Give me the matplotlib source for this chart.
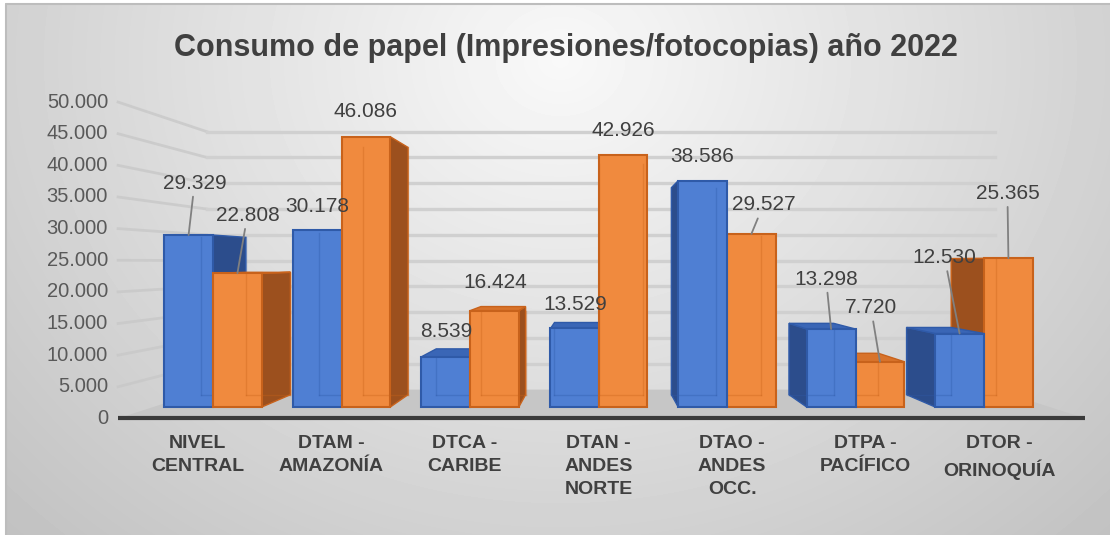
# Consumo de papel 2022 - barras con efecto 3D (estilo Excel)

import numpy as np
import matplotlib.pyplot as plt
from matplotlib.patches import Polygon, Rectangle

plt.rcParams['font.family'] = ['Liberation Sans', 'DejaVu Sans']

# Datos
categorias = ['NIVEL\nCENTRAL', 'DTAM -\nAMAZONÍA', 'DTCA -\nCARIBE', 'DTAN -\nANDES\nNORTE',
              'DTAO -\nANDES\nOCC.', 'DTPA -\nPACÍFICO', 'DTOR -\nORINOQUÍA']
serie_azul = [29329, 30178, 8539, 13529, 38586, 13298, 12530]
serie_naranja = [22808, 46086, 16424, 42926, 29527, 7720, 25365]
ticks_y = [0, 5000, 10000, 15000, 20000, 25000, 30000, 35000, 40000, 45000, 50000]
titulo = 'Consumo de papel (Impresiones/fotocopias) año 2022'

# posicion de las etiquetas de datos (dx, dy en pixeles, linea guia)
etq_azul = [(6, 52, True), (0, 24, False), (1, 25, False), (1, 23, False),
            (0, 24, False), (-5, 50, True), (-15, 76, True)]
etq_naranja = [(10, 58, True), (0, 25, False), (1, 28, False), (0, 25, False),
               (12, 29, True), (-9, 54, True), (-1, 65, True)]

# perspectiva (punto de fuga en coordenadas de datos)
XV, YV = 3.0, 24700
K_BAR = 0.915    # fondo de las barras
K_WALL = 0.88    # pared del fondo
K_FRONT = 1.079  # borde frontal del piso
WX0, WX1 = -0.465, 6.51
W = 0.38

AZUL = dict(face='#4f7fd3', edge='#2f5aa8', side='#2c4d8c', top='#3a66b6')
NARANJA = dict(face='#f08a3e', edge='#c8621b', side='#9c501e', top='#d8732b')


def proj(x, y, k):
    return XV + (np.asarray(x, float) - XV) * k, YV + (np.asarray(y, float) - YV) * k


def fmt(v):
    return f'{v:,}'.replace(',', '.')


def barra(ax, x0, x1, v, c, z):
    bx0, bv = proj(x0, v, K_BAR)
    bx1, b0 = proj(x1, 0, K_BAR)
    if x1 < XV - 1e-6:
        ax.add_patch(Polygon([(x1, 0), (x1, v), (bx1, bv), (bx1, b0)], closed=True,
                             fc=c['side'], ec=c['edge'], lw=1, zorder=z))
    if x0 > XV + 1e-6:
        ax.add_patch(Polygon([(x0, 0), (x0, v), (bx0, bv), (bx0, b0)], closed=True,
                             fc=c['side'], ec=c['edge'], lw=1, zorder=z))
    if v < YV:
        ax.add_patch(Polygon([(x0, v), (x1, v), (bx1, bv), (bx0, bv)], closed=True,
                             fc=c['top'], ec=c['edge'], lw=1, zorder=z))
    ax.bar(x0, v, width=x1 - x0, align='edge', color=c['face'], edgecolor=c['edge'],
           linewidth=1.5, zorder=z + 0.5)
    # aristas traseras vistas a traves de la cara frontal
    top = min(v, bv)
    ax.plot([bx0, bx0], [b0, top], color=c['edge'], lw=1, alpha=0.35, zorder=z + 0.6)
    ax.plot([bx1, bx1], [b0, top], color=c['edge'], lw=1, alpha=0.35, zorder=z + 0.6)
    ax.plot([bx0, bx1], [b0, b0], color=c['edge'], lw=1, alpha=0.35, zorder=z + 0.6)


fig = plt.figure(figsize=(11.1, 5.35), dpi=100)

# fondo con degradado gris
bg = fig.add_axes([0, 0, 1, 1])
bg.set_zorder(0)
yy, xx = np.mgrid[0:535, 0:1110]
d = np.sqrt(((xx - 560) / 560.0) ** 2 + ((yy - 60) / 480.0) ** 2)
val = np.clip(0.975 - 0.155 * d, 0.76, 1.0)
bg.imshow(val, cmap='gray', vmin=0, vmax=1, extent=(0, 1110, 535, 0), aspect='auto',
          interpolation='bilinear')
bg.add_patch(Rectangle((0, 0), 5, 535, fc='white', ec='none'))
bg.add_patch(Rectangle((0, 0), 1110, 3, fc='white', ec='none'))
bg.plot([5.5, 5.5, 1110], [535, 3.5, 3.5], color='#bdbdbd', lw=1.5)
bg.set_xlim(0, 1110)
bg.set_ylim(535, 0)
bg.axis('off')

# ejes principales
ax = fig.add_axes([118 / 1110, 110 / 535, 972 / 1110, 325 / 535])
ax.set_zorder(1)
ax.set_facecolor('none')
ax.set_xlim(-0.7393, 6.8249)
ax.set_ylim(-3070, 52353)
ax.axis('off')

# piso
fx0, f0 = proj(WX0, 0, K_FRONT)
fx1, _ = proj(WX1, 0, K_FRONT)
gx0, g0 = proj(WX0, 0, K_WALL)
gx1, _ = proj(WX1, 0, K_WALL)
ax.add_patch(Polygon([(fx0, f0), (fx1, f0), (gx1, g0), (gx0, g0)], closed=True,
                     fc='#c6c6c6', ec='none', zorder=1, clip_on=False))

# rejilla: pared izquierda + pared del fondo
for v in ticks_y:
    ax_, ay_ = proj(WX0, v, K_FRONT)
    bx_, by_ = proj(WX0, v, K_WALL)
    cx_, _ = proj(WX1, v, K_WALL)
    if v > 0:
        ax.plot([ax_, bx_], [ay_, by_], color='#c8c8c8', lw=2, alpha=0.8, zorder=1.5,
                clip_on=False)
        ax.plot([bx_, cx_], [by_, by_], color='#d0d0d0', lw=2.4, zorder=1.5, clip_on=False)
    ax.annotate(fmt(v), xy=(ax_, ay_), xytext=(-10, 0), textcoords='offset pixels',
                ha='right', va='center', fontsize=14.5, color='#595959', annotation_clip=False)

ax.plot([fx0, fx1], [f0, f0], color='#3a3a3a', lw=3, zorder=2, solid_capstyle='butt',
        clip_on=False)

# barras
for i in range(len(categorias)):
    azul = (i - W, i, serie_azul[i], AZUL)
    nar = (i, i + W, serie_naranja[i], NARANJA)
    orden = [azul, nar] if i <= XV else [nar, azul]
    for j, (x0, x1, v, c) in enumerate(orden):
        barra(ax, x0, x1, v, c, 3 + j)

# etiquetas de datos
for serie, etq, x0s in [(serie_azul, etq_azul, -W / 2), (serie_naranja, etq_naranja, W / 2)]:
    for i, v in enumerate(serie):
        dx, dy, guia = etq[i]
        props = dict(arrowstyle='-', color='#808080', lw=1.3, shrinkA=1, shrinkB=0) if guia else None
        ax.annotate(fmt(v), xy=(i + x0s, v), xytext=(dx, dy), textcoords='offset pixels',
                    ha='center', va='center', fontsize=15, color='#404040',
                    arrowprops=props, zorder=20, annotation_clip=False)

# etiquetas de categorias
for i, cat in enumerate(categorias):
    cx, _ = proj(i, 0, 1.04)
    ax.annotate(cat, xy=(cx, f0), xytext=(0, -17), textcoords='offset pixels',
                ha='center', va='top', fontsize=14, fontweight='bold', color='#404040',
                linespacing=1.45, annotation_clip=False)

fig.text(566 / 1110, 1 - 48 / 535, titulo, ha='center', va='center', fontsize=22,
         fontweight='bold', color='#404040')

fig.savefig('out.png', dpi=100)
